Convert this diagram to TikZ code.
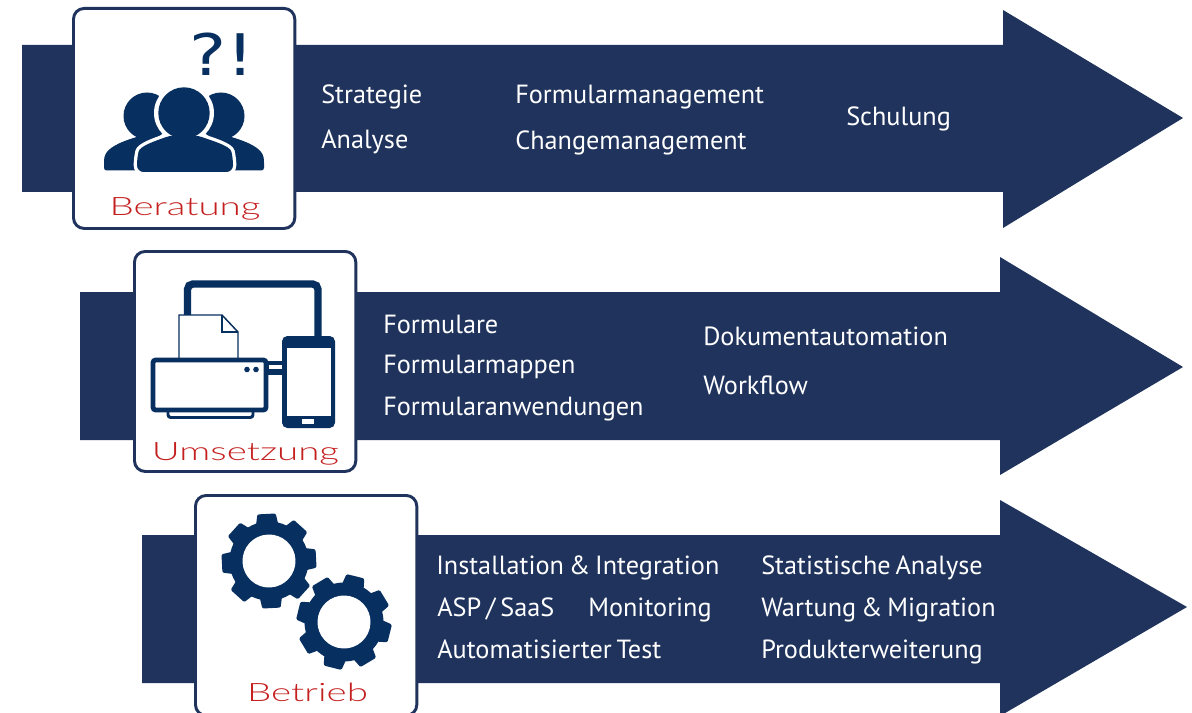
\documentclass[tikz,border=0pt]{standalone}
\usepackage{fontspec}
\setmainfont[WordSpace=0.7]{PT Sans}
\newfontfamily\labelfont[FakeStretch=1.52]{Lato Light}
\newfontfamily\markfont[FakeStretch=1.22]{DejaVu Sans}
\usepackage{tikz}
\usetikzlibrary{positioning}
\definecolor{arrowblue}{HTML}{1F335C}
\definecolor{iconblue}{HTML}{072F5F}
\definecolor{labelred}{HTML}{C4201F}
\tikzstyle{item} = [anchor=base west, inner sep=0, text=white, font=\fontsize{19.7}{19.7}\selectfont]
\tikzstyle{tag} = [anchor=base, inner sep=0, text=labelred, font=\labelfont\fontsize{19}{19}\selectfont]
\tikzstyle{card} = [draw=arrowblue, fill=white, line width=2.2pt, rounded corners=8pt, anchor=north west, inner sep=0, minimum width=166pt, minimum height=165pt]
\tikzstyle{band} = [fill=arrowblue]
\tikzstyle{icon} = [fill=iconblue]
\tikzstyle{device} = [draw=iconblue, fill=white, rounded corners=2pt]
\newcommand{\gearicon}[3]{
  \begin{scope}[shift={(#1,#2)},rotate=#3]
    \fill [icon] (0,0) circle (39.5);
    \foreach \a in {0,45,...,315}
      \fill [icon, rounded corners=1pt] (\a-17:38) -- (\a-11:48) -- (\a+11:48) -- (\a+17:38) -- cycle;
    \fill [white] (0,0) circle (26.5);
  \end{scope}
}
\begin{document}
\begin{tikzpicture}[x=0.75pt,y=-0.75pt]
  \clip (0,0) rectangle (1192,713);
  \fill [white] (0,0) rectangle (1192,713);

  % arrows
  \fill [band] (22,45) -- (1003,45) -- (1003,10) -- (1183,118) -- (1003,228) -- (1003,192) -- (22,192) -- cycle;
  \fill [band] (80,292) -- (1000,292) -- (1000,257) -- (1183,367) -- (1000,475) -- (1000,440) -- (80,440) -- cycle;
  \fill [band] (142,535) -- (1000,535) -- (1000,500) -- (1187,607) -- (1000,716) -- (1000,683) -- (142,683) -- cycle;

  % cards
  \node [card] (beratung) at (72,7) {};
  \node [card] (umsetzung) at (133,250) {};
  \node [card] (betrieb) at (194,494) {};

  \node [tag] (beratungtag) at (185,215) {Beratung};
  \node [tag] (umsetzungtag) at (245.5,460) {Umsetzung};
  \node [tag] (betriebtag) at (307.5,701) {Betrieb};

  % people
  \node [anchor=base, inner sep=0, text=iconblue, font=\markfont\fontsize{43}{43}\selectfont] (mark) at (222,76) {?!};
  \fill [icon] (147,116) circle (23.5);
  \fill [icon] (221,116) circle (23.5);
  \fill [icon, rounded corners=2pt] (104,170.5) -- (104,160) .. controls (106,148) and (120,142) .. (140,136) -- (228,136) .. controls (248,142) and (262,148) .. (264,160) -- (264,170.5) -- cycle;
  \fill [white] (184,113) circle (30);
  \fill [icon, rounded corners=5pt, preaction={draw=white, line width=5pt}] (137,172) -- (137,158) .. controls (140,146) and (155,141) .. (172,135) -- (196,135) .. controls (213,141) and (230,146) .. (233,158) -- (233,172) -- cycle;
  \fill [icon] (184,113) circle (25.7);

  % devices
  \draw [iconblue, line width=5.5pt, rounded corners=4pt] (187.5,320) -- (187.5,284) -- (318,284) -- (318,340);
  \draw [iconblue, fill=white, line width=1.1pt] (179,315) -- (222,315) -- (238,332) -- (238,360) -- (179,360) -- cycle;
  \draw [iconblue, line width=1.1pt] (222,315) -- (222,332) -- (238,332);
  \draw [device, line width=2.2pt] (168,410) -- (168,417.5) -- (253,417.5) -- (253,410);
  \draw [device, line width=3.6pt] (153,360) rectangle (266,410);
  \fill [icon] (247,369.5) circle (2.8);
  \fill [icon] (256,369.5) circle (2.8);
  \fill [icon] (266,361) rectangle (284,375);
  \fill [white] (269,365) rectangle (283,368.5);
  \fill [icon, rounded corners=4pt] (282,336) rectangle (335,428);
  \fill [white] (286.5,348) rectangle (331,416);
  \fill [white] (302,419) rectangle (314,424);

  % gears
  \gearicon{269}{561}{3}
  \gearicon{344}{622}{-14}

  % first arrow
  \node [item] (strategie) at (321,104) {Strategie};
  \node [item] (analyse) at (321,149) {Analyse};
  \node [item] (formularmanagement) at (515,104) {Formularmanagement};
  \node [item] (changemanagement) at (515,150) {Changemanagement};
  \node [item] (schulung) at (846,126) {Schulung};

  % second arrow
  \node [item] (formulare) at (383,333) {Formulare};
  \node [item] (formularmappen) at (383,373) {Formularmappen};
  \node [item] (formularanwendungen) at (383,415) {Formularanwendungen};
  \node [item] (dokumentautomation) at (703,345) {Dokumentautomation};
  \node [item] (workflow) at (703,394) {Workflow};

  % third arrow
  \node [item] (installation) at (436,574) {Installation \& Integration};
  \node [item] (asp) at (437,616) {ASP / SaaS};
  \node [item] (monitoring) at (588,616) {Monitoring};
  \node [item] (test) at (437,658) {Automatisierter Test};
  \node [item] (statistik) at (761,574) {Statistische Analyse};
  \node [item] (wartung) at (761,616) {Wartung \& Migration};
  \node [item] (produkt) at (761,658) {Produkterweiterung};
\end{tikzpicture}
\end{document}
